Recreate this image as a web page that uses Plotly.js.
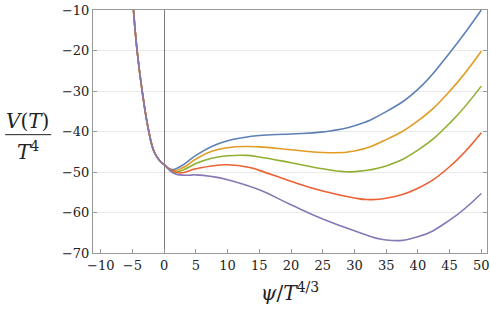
<!DOCTYPE html>
<html>
<head>
<meta charset="utf-8">
<script src="https://cdn.plot.ly/plotly-3.0.1.min.js"></script>
<style>html,body{margin:0;padding:0;background:#fff;}#chart{width:490px;height:314px;}</style>
</head>
<body>
<div id="chart"></div>
<script>
// Shared steep left branch (all five curves coincide here)
const leftX = [-5.2, -4.84, -4.27, -3.47, -2.42, -1.58, -0.7, 0];
const leftY = [-2, -10, -20, -30, -40, -45, -47.2, -48.2];

// Right-hand parts of each curve (psi / T^{4/3}, V/T^4)
const blueX   = [1.2, 2.5, 5, 7.5, 10, 12.5, 15, 20, 25, 30, 35, 40, 45, 50];
const blueY   = [-49.4, -48.7, -45.9, -43.7, -42.3, -41.5, -41.0, -40.6, -40.1, -38.6, -35.1, -29.6, -20.6, -10];
const orangeX = [1.3, 3, 5, 7.5, 10, 13, 15, 20, 25, 30, 35, 40, 45, 50];
const orangeY = [-49.7, -48.9, -46.8, -44.9, -44.0, -43.7, -43.8, -44.5, -45.2, -44.8, -42.0, -37.4, -30.1, -20.2];
const greenX  = [1.4, 3, 5, 7.5, 10, 13, 15, 20, 25, 28.3, 30, 35, 40, 45, 50];
const greenY  = [-50.0, -49.5, -47.9, -46.6, -46.0, -45.9, -46.3, -47.7, -49.2, -49.9, -49.9, -48.5, -44.6, -38.0, -28.8];
const redX    = [2.2, 5, 7.5, 10, 13.5, 15, 20, 25, 30, 32, 35, 40, 45, 50];
const redY    = [-50.2, -49.2, -48.5, -48.2, -48.9, -49.6, -52.3, -54.7, -56.4, -56.8, -56.5, -54.0, -48.7, -40.3];
const purpleX = [1.5, 3.3, 5, 7.5, 10, 15, 20, 25, 30, 35, 40, 45, 50];
const purpleY = [-50.3, -50.8, -50.7, -51.1, -51.9, -54.4, -58.1, -61.6, -64.5, -66.8, -66.0, -61.9, -55.3];

const colors = ['#5E81B5', '#E19C24', '#8FB032', '#EB6235', '#8778B3'];
const seriesX = [blueX, orangeX, greenX, redX, purpleX];
const seriesY = [blueY, orangeY, greenY, redY, purpleY];

const xTickVals = [-10, -5, 0, 5, 10, 15, 20, 25, 30, 35, 40, 45, 50];
const yTickVals = [-70, -60, -50, -40, -30, -20, -10];

const traces = seriesX.map((sx, i) => ({
  x: leftX.concat(sx),
  y: leftY.concat(seriesY[i]),
  type: 'scatter',
  mode: 'lines',
  line: {color: colors[i], width: 1.6, shape: 'spline', smoothing: 1.3},
  hoverinfo: 'skip',
  showlegend: false
}));

const serif = 'DejaVu Serif';
const xr = [-11.22, 50.9];

const layout = {
  width: 490, height: 314,
  margin: {l: 93, r: 3, t: 10, b: 61},
  paper_bgcolor: '#ffffff', plot_bgcolor: '#ffffff',
  showlegend: false,
  font: {family: serif, color: '#222'},
  xaxis: {
    range: xr, tickvals: xTickVals,
    ticks: 'inside', ticklen: 4, tickcolor: '#999', tickwidth: 1,
    showline: true, linecolor: '#999', linewidth: 1, mirror: true,
    showgrid: false,
    zeroline: true, zerolinecolor: '#7a7a7a', zerolinewidth: 1,
    ticklabeloverflow: 'allow',
    tickfont: {family: serif, size: 13, color: '#222'},
    title: {text: '<i>ψ</i>/<i>T</i><sup>4/3</sup>', font: {family: serif, size: 20, color: '#222'}, standoff: 14}
  },
  xaxis2: {
    overlaying: 'x', anchor: 'y', range: xr, dtick: 10, tick0: 0,
    showgrid: true, gridcolor: '#e9e9e9', gridwidth: 1,
    showticklabels: false, ticks: '', showline: false, zeroline: false
  },
  yaxis: {
    range: [-70, -10], tickvals: yTickVals,
    ticks: 'inside', ticklen: 4, tickcolor: '#999', tickwidth: 1,
    showline: true, linecolor: '#999', linewidth: 1, mirror: 'ticks',
    showgrid: true, gridcolor: '#e9e9e9', gridwidth: 1,
    zeroline: false,
    tickfont: {family: serif, size: 13, color: '#222'}
  },
  annotations: [
    {xref: 'paper', yref: 'paper', x: -0.166, y: 0.545, xanchor: 'center', yanchor: 'middle',
     text: '<i>V</i>(<i>T</i>)', showarrow: false, font: {family: serif, size: 20, color: '#222'}},
    {xref: 'paper', yref: 'paper', x: -0.166, y: 0.42, xanchor: 'center', yanchor: 'middle',
     text: '<i>T</i><sup>4</sup>', showarrow: false, font: {family: serif, size: 20, color: '#222'}}
  ],
  shapes: [
    {type: 'line', xref: 'paper', yref: 'paper', x0: -0.223, x1: -0.106, y0: 0.487, y1: 0.487,
     line: {color: '#222', width: 1}}
  ]
};

Plotly.newPlot('chart', traces, layout, {displayModeBar: false, staticPlot: true});
</script>
</body>
</html>
